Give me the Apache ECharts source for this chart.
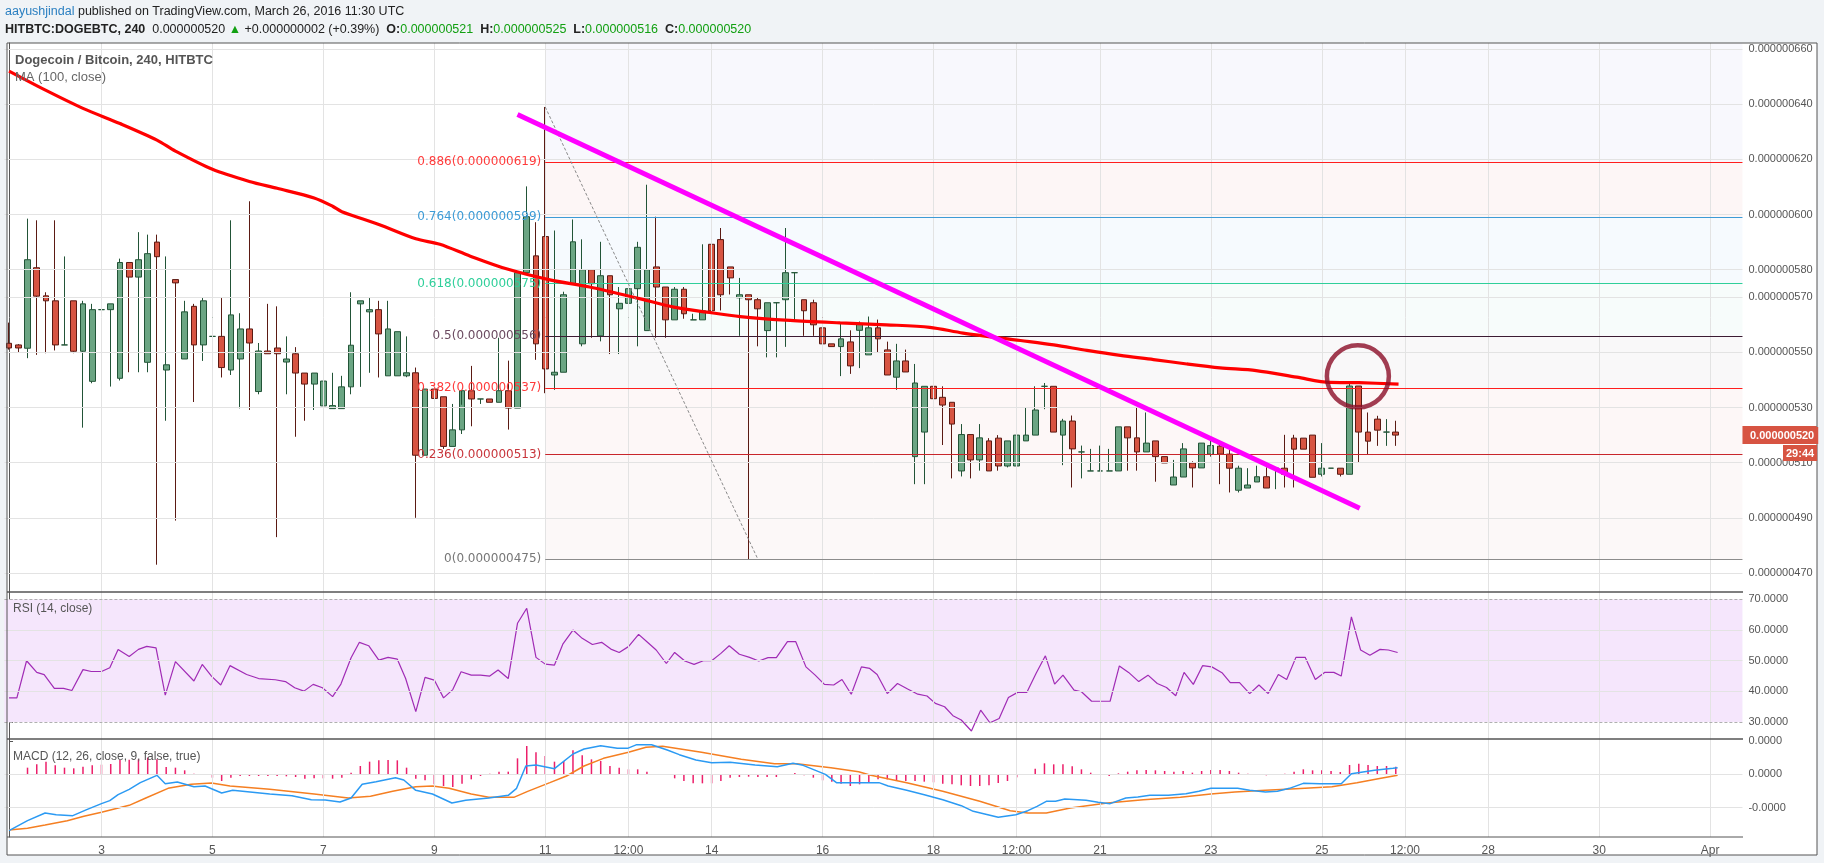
<!DOCTYPE html>
<html><head><meta charset="utf-8">
<script src="https://cdn.jsdelivr.net/npm/echarts@6/dist/echarts.min.js"></script>
<style>
html,body{margin:0;padding:0;background:#f0f3f6;}
#bgw{position:absolute;left:7px;top:43px;width:1810px;height:812px;background:#fff;}
#c{position:absolute;left:0;top:0;width:1824px;height:863px;}
</style></head><body>
<div id="bgw"></div><div id="c"></div>
<script>
// ---- data (price in units of 1e-9 BTC) ----
const opens=[553.3,552.7,551.5,580.7,570.5,568.7,552.7,568.7,550.4,539.5,565.5,565.5,540.6,582.6,577.3,546.4,590,543.6,576.4,547.6,566.7,552.7,555.8,555.8,543.6,547.6,558.5,535.8,550.5,551.6,546.5,549.5,542.5,538.5,530.6,529.6,529.6,537.5,567.6,564.7,565.5,541.5,541.5,541.5,542.6,512.7,536.7,533.9,515.9,521.9,536.1,533.1,533.1,531.9,536.1,529.8,578.9,585,592,541.8,542.8,574.9,553.1,580,556,577.8,565.8,567.8,573.1,557.9,581,573.7,561.8,572.9,561.8,561.8,589.2,590.9,581,569.8,570.9,569.1,557.9,568,569.1,578.9,569.1,568,558.9,553.1,552.1,553.8,558,549.1,558.9,550.9,541,546.9,512.2,521.1,537.7,533.7,531.9,507,520.2,511,517.9,518.9,508.8,508.8,517.9,520,537.7,537.7,520,525.1,513.9,507,507,507,507,523,519,513.9,517.9,512.2,501.9,504.8,509.9,508.1,513.1,516,513.1,500,500.8,503,504.9,508,508,518.9,518.9,520,505.8,508,508,505.8,537.8,521.1,525.8,521.1,521.1];
const closes=[551.6,551.6,583.6,570.4,568.7,552.7,552.7,550.4,567.6,565.5,565.5,567.6,582.6,577.3,583.6,585.8,584.7,545.5,575.2,564.7,552.7,568.7,555.8,544.5,563.6,558.5,553.4,550.5,549.5,549.5,547.6,542.5,538.5,542.5,539.6,530.7,537.5,552.6,568.7,565.5,556.7,558.5,557.5,542.6,512.7,536.7,533.3,515.9,521.9,536.1,533.1,533.1,531.9,536.1,529.8,578.9,599.2,553.1,544,542.8,570.9,590.1,580,574.9,577.8,570.9,567.8,573.1,588.1,580,573.7,561.8,572.9,564,561.8,565.1,565.1,570.9,577,570.9,569.1,565.8,568,568,578.9,578.9,565.1,560,553.1,552.1,554.9,545.1,560.1,558.9,554.9,541.8,546.9,542.9,538.9,537.7,533.2,530.9,524,520.2,511,519,507,508.8,517.9,520,520,529.1,537.7,521.1,525.1,515,513.9,507,507,507,523,519,513.9,517.1,512.2,509.9,504.8,515,508.1,517.1,516.2,513.1,508,508,501.9,504.9,500.8,508,505.8,514.9,514.9,504.7,508,508,505.8,537.8,521.1,517.8,521.8,521.1,520];
const lows=[551,550,547.9,549.1,549.7,550.7,552.7,549.7,522.7,538.8,565.5,537.6,539.8,542.8,542.8,542.8,473,525.2,489,547.6,532,546.9,555.8,540.9,541.8,529.7,529.1,534.8,549.5,483,534.8,519.4,525.2,529.1,530.6,529.6,529.6,534.8,537.5,542.6,540.9,541.5,541.5,541,490,512.7,524,515,515.9,520.4,523.2,531.3,531.9,531.9,522,529.8,578.9,547.3,535.2,536.4,542.8,574.9,552.2,555.3,554,549.4,549.4,551,552.2,557.9,555.3,555.3,561.8,562.2,561.8,561.8,565.1,565.2,571,556,475,552.2,548.2,548.2,552,561.6,556,556,553.1,552.1,541.4,542.2,544.3,549.1,550,541.8,536.4,542.9,502.2,502.2,503.2,516.4,504.3,505,504.3,507.1,507,507.1,508.3,508.8,517.9,520,529.4,521.1,509.1,501,504.3,507,507,507,507,507.1,507.1,513.9,503.1,509.9,501.9,504.8,501,508.1,512.2,502.2,499.2,499.2,500.8,503,500.8,500.4,501,501,514.9,504.7,505,508,505,505.8,510.1,513.1,516.1,516.1,516.1];
const highs=[560.8,553,598.5,597.9,571.8,597.9,584.8,568.7,568.7,567.6,565.5,567.6,584,582.6,593.6,592.7,592.7,584.8,576.4,568.7,567.6,569.7,569.7,569.7,597.9,564.2,604.8,553.4,567.6,566.7,555.8,551.9,542.5,542.5,542.6,542.6,541.5,571.8,568.7,569.7,568.7,568.7,557.5,555.8,544.5,536.7,536.7,533.9,531.3,531,545.1,533.1,533.1,555.3,547,578.9,610.2,597.2,639,594.2,572,598.2,591,580,590.1,577.8,573.7,580,590.1,610.8,599.2,573.7,573.7,573.7,564,589.2,599.2,595.1,581,577,570.9,570.1,568,568,595.1,578.9,569.1,569.1,562.8,553.1,560.4,558,561.2,563,561.9,553.9,553.1,551,545.8,537.7,538.9,537.7,531.9,524,520.2,524,518.9,520,517.9,530.1,530.1,537.7,538.9,537.7,525.9,527.1,516.2,515,516.2,515,523,523,530.1,528.2,517.9,512.2,511,517.1,510.5,517.1,519,517.9,514.9,508.9,508,508.9,508.3,508,520.1,520.1,518.9,520,517.1,508,508,539.1,537.8,528.2,527,525.8,525.2];
const maX=[0,4,8,12,16,18,22,26,29,33,35,36,40,44,46.6,49.9,53.8,58.5,62.8,68.3,71.9,75.5,79.1,84.5,89.9,94.9,99.6,103.2,109.4,113,116.6,120.2,123.8,127.4,131,134.9,139.3,142.9,146,150.3];
const maY=[652,645,638.5,633,627,623,616.4,612,609.5,606,603,601,596.4,591.2,589.2,584.9,580.3,576.3,573.7,569.4,566.4,564.6,563,561.6,560.7,560,559.1,557,554.3,552.7,550.7,548.9,547.4,545.8,544.4,543.4,541,539.1,539,538.5];
const rsiX=[0,0.85,1.9,3,3.8,4.9,5.9,6.8,8,8.9,10,10.9,11.8,13,14,14.9,15.9,16.9,18,20,20.9,21.9,22.9,23.9,25.7,27,28.8,29.9,30.9,31.9,32.9,33.9,35,35.9,37,37.9,38.9,40,41,42,42.9,44,45,46,47,48,48.9,50,51,52,52.9,54,55,56,57,58,59,59.9,61,62,63.1,64.1,65.1,66,67,68.1,69,70,71.1,72,73.1,74.1,75.1,76,77,77.9,79,80.1,81.1,82.1,83,84.2,85.1,86.2,87.2,88.2,89.2,90.1,91.1,92.2,93.1,93.9,95,96.1,97.2,98.3,99.3,100.2,101.2,102.1,103,104.1,105.1,106.1,107.1,108.1,109.1,110.1,111.1,112.1,113.1,114,115.2,116,117.1,119.1,120.1,121.1,122.2,123.2,124.2,125.2,126.2,127.1,128.1,129.1,130.1,131.2,132.1,133.1,134.2,135.2,136.2,137.3,138.2,139.2,140.2,141.3,142.3,143.3,144.1,145.2,146.2,147.2,148.3,149.2,150.2];
const rsiY=[37.9,37.9,50,46.2,45.5,41,41,40.3,47.1,46.5,46.5,47.7,53.7,51.4,53.7,54.7,54.2,38.8,49.7,43.4,48.8,45,42.1,48.4,45.5,44.2,43.8,43.2,41.2,40.1,42.3,41.2,38.3,42.4,51,56,54.9,50.2,51.1,50.5,44.2,33.4,44.6,43.7,37.9,40.6,46.4,45.3,45.3,45,47,44.2,62.2,67.1,51.1,48.9,48.6,55.4,60,57.3,55.3,56,53.8,52.7,54.6,58.6,56.2,53.5,49.1,52.7,49.9,48.8,50,50,52.4,54.9,52.1,51.1,49.9,51,51,56.2,56.2,48,45.3,42.3,42.1,43.9,39.1,48,47.5,45.5,39.3,42.6,40.8,39.1,38.5,36.1,35,32.1,30.7,27.1,33.9,29.8,31.2,38,39.7,39.7,45.9,51.6,42.4,45.3,40.4,39.9,36.8,36.8,48.3,46.2,43.2,45.3,42.6,41.3,38.6,46.2,42.3,48.4,48,46.1,42.9,42.9,39.3,42.1,39.3,45.5,43.9,51.1,51.1,43.9,46.2,46.2,45,64.3,53.5,51.8,53.7,53.5,52.7];
const macdX=[0,2,3.9,5.1,6.9,8.4,10,10.9,11.8,13,14.2,16,16.9,18.2,20,21.2,23,24.2,28.2,30.6,32.7,34.2,35.8,37,38.2,39.7,41.8,42.7,44,45.8,47.9,49.4,51.9,54,54.9,55.9,57,59,61,62.2,64,65.8,66.9,67.9,69.5,71.2,72.5,74.3,76,78,80.7,83.1,84.8,85.9,88.3,89.5,91.3,93.1,94.1,95.1,97.1,99,101,103,104.3,107,108.9,110.2,111.2,112.2,113.2,114.2,116.5,117.8,119.1,120.8,122.1,123.4,125.4,127.3,128.7,130,132.9,134.2,135.9,137.2,138.5,140,141.8,144.1,145.2,147.7,149.7,150.2];
const macdY=[-1.69,-1.39,-1.16,-1.21,-1.24,-1.06,-0.88,-0.79,-0.61,-0.45,-0.25,-0.03,-0.28,-0.23,-0.37,-0.35,-0.56,-0.48,-0.59,-0.64,-0.76,-0.77,-0.83,-0.71,-0.3,-0.22,-0.1,-0.17,-0.48,-0.59,-0.86,-0.78,-0.71,-0.63,-0.42,0.25,0.28,0.17,0.61,0.76,0.86,0.78,0.78,0.89,0.89,0.73,0.59,0.43,0.35,0.36,0.28,0.23,0.33,0.27,0,-0.25,-0.25,-0.25,-0.25,-0.35,-0.48,-0.61,-0.76,-0.94,-1.11,-1.29,-1.21,-1.09,-0.96,-0.81,-0.81,-0.74,-0.78,-0.84,-0.88,-0.71,-0.68,-0.63,-0.63,-0.58,-0.51,-0.42,-0.42,-0.48,-0.53,-0.51,-0.42,-0.27,-0.28,-0.28,0.02,0.12,0.18,0.2];
const sigX=[0,2,3.9,6.3,8.1,10,13,14.8,17.2,19.7,21.9,23.9,28.2,33,36.7,39.1,41.5,44,45.8,47.6,50,51.9,54.6,56.1,58.5,60.3,62.2,64.3,67,68.9,70.7,74.9,79.2,82.8,85.2,88.9,91.9,93.1,97.1,101,105,108.3,110.2,112.2,114.8,118.8,122.7,126.7,130,132.6,135.9,139.2,143.1,145.8,148.4,150.2];
const sigY=[-1.67,-1.62,-1.52,-1.39,-1.26,-1.14,-0.93,-0.71,-0.42,-0.3,-0.26,-0.35,-0.45,-0.59,-0.71,-0.66,-0.51,-0.37,-0.35,-0.42,-0.59,-0.69,-0.69,-0.51,-0.25,-0.05,0.25,0.48,0.66,0.81,0.84,0.66,0.45,0.32,0.32,0.2,0.08,-0.02,-0.25,-0.51,-0.81,-1.09,-1.16,-1.16,-1.01,-0.86,-0.76,-0.69,-0.59,-0.53,-0.48,-0.43,-0.37,-0.25,-0.12,-0.03];
const hist=[-0.01,0.01,0.2,0.3,0.38,0.27,0.2,0.18,0.23,0.27,0.29,0.31,0.43,0.44,0.45,0.5,0.45,0.22,0.2,0.12,0.02,-0.02,-0.1,-0.2,-0.1,-0.05,-0.05,-0.05,-0.05,-0.05,-0.06,-0.08,-0.13,-0.12,-0.12,-0.13,-0.1,0.05,0.25,0.38,0.42,0.43,0.42,0.2,-0.13,-0.18,-0.3,-0.35,-0.38,-0.28,-0.15,-0.05,0.02,0.08,0.08,0.48,0.85,0.66,0.55,0.38,0.4,0.72,0.57,0.45,0.4,0.25,0.2,0.15,0.15,0.08,0.01,-0.02,-0.12,-0.2,-0.27,-0.27,-0.27,-0.2,-0.1,-0.08,-0.07,-0.08,-0.08,-0.08,0.01,0.04,-0.03,-0.1,-0.18,-0.22,-0.28,-0.35,-0.3,-0.25,-0.15,-0.15,-0.18,-0.2,-0.2,-0.22,-0.24,-0.28,-0.3,-0.33,-0.35,-0.35,-0.33,-0.26,-0.2,-0.09,0.01,0.17,0.33,0.3,0.3,0.24,0.15,0.05,0.01,-0.05,0.03,0.08,0.12,0.13,0.12,0.1,0.08,0.1,0.05,0.1,0.13,0.13,0.1,0.05,0.02,0.01,-0.03,0.01,0.02,0.08,0.15,0.12,0.12,0.1,0.07,0.28,0.32,0.28,0.25,0.25,0.23];
const dateTicks=[10,22,34,46,58,67,76,88,100,109,118,130,142,151,160,172,184];
const dateLabels=['3','5','7','9','11','12:00','14','16','18','12:00','21','23','25','12:00','28','30','Apr'];
const priceTicks=[660,640,620,600,580,570,550,530,510,490,470];
const rsiTicks=[70,60,50,40,30];
const macdTicks=[1,0,-1];
const macdTickLabels=['0.0000','0.0000','-0.0000'];
const fibRatios=['0.886','0.764','0.618','0.5','0.382','0.236','0'];
const fibPrices=[619,599,575,556,537,513,475];
const fibColors=['#ff1e1e','#3d9bd6','#2fcf9a','#3b1c33','#ff1e1e','#c8252b','#8c8c8c'];
const fibLabelColors=['#ff3b3b','#3d9bd6','#2fcf9a','#6b4a60','#ff3b3b','#c8353b','#777'];
const fibZoneTop=[662.2,619,599,575,556,537,513];
const fibZoneColors=['#f8f8fd','#fdf6f6','#f6fafe','#f7fcfb','#f9f8f9','#fdf7f7','#fcf8f8'];
const fibStart=[58,639], fibEnd=[81,475];
const trendStart=[55,636.3], trendEnd=[146.1,493.5];
const circleAt=[145.9,541.3];
const lastPrice=520;
const nCats=188;
const cats=Array.from({length:nCats},(_,i)=>String(i));
const candles=opens.map((o,i)=>[o,closes[i],lows[i],highs[i]]);

const chart=echarts.init(document.getElementById('c'),null,{renderer:'canvas'});
const L=4.4, W=nCats*9.245;
const grids=[{left:L,width:W,top:43,height:549},{left:L,width:W,top:592,height:147},{left:L,width:W,top:739,height:98}];
const FONT='Liberation Sans';
function pad(v){return '0.000000'+String(v);}
const vxa=(g)=>({type:'value',gridIndex:g,min:-0.5,max:nCats-0.5,show:false});
const cxa=(g,lab)=>({type:'category',gridIndex:g,data:cats,boundaryGap:true,axisLine:{show:false},axisTick:{show:false},splitLine:{show:false},
  axisLabel:{show:lab,interval:(i)=>dateTicks.indexOf(i)>=0,formatter:(v,i)=>dateLabels[dateTicks.indexOf(+v)]||'',color:'#555',fontFamily:FONT,fontSize:12,margin:8}});
const gridLineSeries=(xa,ya,yvals,extra)=>({type:'line',xAxisIndex:xa,yAxisIndex:ya,data:[],silent:true,z:1,
  markLine:{silent:true,symbol:'none',animation:false,label:{show:false},lineStyle:{color:'#e3e3e3',width:1,type:'solid'},
    data:dateTicks.map(t=>({xAxis:t})).concat(yvals.map(v=>({yAxis:v}))).concat(extra||[])}});

const option={
  animation:false,
  grid:grids,
  xAxis:[cxa(0,false),vxa(0),cxa(1,false),vxa(1),cxa(2,true),vxa(2)],
  yAxis:[
    {type:'value',gridIndex:0,position:'right',min:463.1,max:662.2,splitLine:{show:false},
     axisLine:{show:true,lineStyle:{color:'#555'}},axisTick:{show:true,length:4,customValues:priceTicks,lineStyle:{color:'#555'}},
     axisLabel:{customValues:priceTicks,formatter:v=>pad(v),color:'#555',fontFamily:FONT,fontSize:11,margin:6}},
    {type:'value',gridIndex:1,position:'right',min:24.5,max:72.4,splitLine:{show:false},
     axisLine:{show:true,lineStyle:{color:'#555'}},axisTick:{show:true,length:4,customValues:rsiTicks,lineStyle:{color:'#555'}},
     axisLabel:{customValues:rsiTicks,formatter:v=>v.toFixed(4),color:'#555',fontFamily:FONT,fontSize:11,margin:6}},
    {type:'value',gridIndex:2,position:'right',min:-1.88,max:1.06,splitLine:{show:false},
     axisLine:{show:true,lineStyle:{color:'#555'}},axisTick:{show:true,length:4,customValues:macdTicks,lineStyle:{color:'#555'}},
     axisLabel:{customValues:macdTicks,formatter:v=>macdTickLabels[macdTicks.indexOf(Math.round(v))],color:'#555',fontFamily:FONT,fontSize:11,margin:6}}
  ],
  series:[
    {type:'line',xAxisIndex:1,yAxisIndex:0,data:[],silent:true,z:0,
     markArea:{silent:true,data:fibZoneTop.map((t,i)=>[{coord:[fibStart[0],t],itemStyle:{color:fibZoneColors[i]}},{coord:[nCats-0.5,fibPrices[i]]}])}},
    gridLineSeries(1,0,priceTicks),
    {type:'line',xAxisIndex:1,yAxisIndex:0,data:[],silent:true,z:3,
     markLine:{silent:true,symbol:'none',data:fibPrices.map((p,i)=>[
       {coord:[fibStart[0],p],lineStyle:{color:fibColors[i],width:1.2,type:'solid'},
        label:{show:true,position:'start',formatter:fibRatios[i]+'('+pad(p)+')',color:fibLabelColors[i],fontFamily:'DejaVu Sans',fontSize:12,distance:4}},
       {coord:[nCats-0.5,p]}])}},
    {type:'candlestick',xAxisIndex:0,yAxisIndex:0,data:candles,barWidth:6.3,z:4,
     itemStyle:{color:'#6ba583',color0:'#d75442',borderColor:'#225437',borderColor0:'#5b1a13',borderColorDoji:'#225437',borderWidth:1}},
    {type:'line',xAxisIndex:1,yAxisIndex:0,data:maX.map((x,i)=>[x,maY[i]]),smooth:0.3,symbol:'none',z:5,lineStyle:{color:'#ff0000',width:3.2}},
    {type:'line',xAxisIndex:1,yAxisIndex:0,data:[fibStart,fibEnd],symbol:'none',z:5,lineStyle:{color:'#8a8a8a',width:1,type:[3,2]}},
    {type:'line',xAxisIndex:1,yAxisIndex:0,data:[trendStart,trendEnd],symbol:'none',z:6,lineStyle:{color:'#ff00ff',width:5}},
    {type:'scatter',xAxisIndex:1,yAxisIndex:0,data:[circleAt],symbol:'circle',symbolSize:62,z:7,
     itemStyle:{color:'rgba(0,0,0,0)',borderColor:'#8b0d27',borderWidth:4.5}},
    {type:'line',xAxisIndex:1,yAxisIndex:0,data:[],z:8,
     markLine:{silent:true,symbol:'none',data:[{yAxis:lastPrice}],lineStyle:{color:'rgba(0,0,0,0)',width:1},
      label:{show:true,position:'end',distance:0,formatter:pad(lastPrice),backgroundColor:'#d75442',color:'#fff',fontWeight:'bold',fontFamily:FONT,fontSize:11,padding:[4,4,3,6]}}},
    {type:'line',xAxisIndex:3,yAxisIndex:1,data:[],silent:true,z:0,
     markArea:{silent:true,data:[[{coord:[-0.5,70],itemStyle:{color:'#f5e6fc'}},{coord:[nCats-0.5,30]}]]}},
    gridLineSeries(3,1,[60,50,40]),
    {type:'line',xAxisIndex:3,yAxisIndex:1,data:[],silent:true,z:2,
     markLine:{silent:true,symbol:'none',label:{show:false},lineStyle:{color:'#b0b0b0',type:[3,2],width:1},data:[{yAxis:70},{yAxis:30}]}},
    {type:'line',xAxisIndex:3,yAxisIndex:1,data:rsiX.map((x,i)=>[x,rsiY[i]]),symbol:'none',z:4,lineStyle:{color:'#a02bb5',width:1.2}},
    gridLineSeries(5,2,[0,-1]),
    {type:'bar',xAxisIndex:5,yAxisIndex:2,data:hist.map((v,i)=>[i,v]),barWidth:1.5,z:3,itemStyle:{color:'#ec1f6a'}},
    {type:'line',xAxisIndex:5,yAxisIndex:2,data:sigX.map((x,i)=>[x,sigY[i]]),symbol:'none',z:4,lineStyle:{color:'#f57f22',width:1.5}},
    {type:'line',xAxisIndex:5,yAxisIndex:2,data:macdX.map((x,i)=>[x,macdY[i]]),symbol:'none',z:5,lineStyle:{color:'#2b9af3',width:1.5}}
  ],
  graphic:[
    {type:'text',left:5,top:5,z:100,style:{text:'{u|aayushjindal} published on TradingView.com, March 26, 2016 11:30 UTC',fontFamily:FONT,fontSize:12.5,fill:'#222',
      rich:{u:{fill:'#2a7fc1',fontFamily:FONT,fontSize:12.5}}}},
    {type:'text',left:5,top:23,z:100,style:{text:'{b|HITBTC:DOGEBTC, 240}  0.000000520 {g|▲} +0.000000002 (+0.39%)  {b|O:}{g|0.000000521}  {b|H:}{g|0.000000525}  {b|L:}{g|0.000000516}  {b|C:}{g|0.000000520}',
      fontFamily:FONT,fontSize:12.5,fill:'#222',rich:{b:{fontWeight:'bold',fill:'#222',fontFamily:FONT,fontSize:12.5},g:{fill:'#12a012',fontFamily:FONT,fontSize:12.5}}}},
    {type:'text',left:15,top:54,z:100,style:{text:'Dogecoin / Bitcoin, 240, HITBTC',fontFamily:FONT,fontWeight:'bold',fontSize:13,fill:'#555'}},
    {type:'text',left:15,top:71,z:100,style:{text:'MA (100, close)',fontFamily:FONT,fontSize:13,fill:'#666'}},
    {type:'text',left:13,top:603,z:100,style:{text:'RSI (14, close)',fontFamily:FONT,fontSize:12,fill:'#555'}},
    {type:'text',left:13,top:751,z:100,style:{text:'MACD (12, 26, close, 9, false, true)',fontFamily:FONT,fontSize:12,fill:'#555'}},
    {type:'line',z:100,shape:{x1:7,y1:43,x2:1817,y2:43},style:{stroke:'#555',lineWidth:1}},
    {type:'line',z:100,shape:{x1:7,y1:592,x2:1743,y2:592},style:{stroke:'#555',lineWidth:1.5}},
    {type:'line',z:100,shape:{x1:7,y1:739,x2:1743,y2:739},style:{stroke:'#555',lineWidth:1.5}},
    {type:'line',z:100,shape:{x1:7,y1:837,x2:1743,y2:837},style:{stroke:'#555',lineWidth:1}},
    {type:'line',z:100,shape:{x1:7,y1:43,x2:7,y2:855},style:{stroke:'#555',lineWidth:1}},
    {type:'line',z:100,shape:{x1:1817,y1:43,x2:1817,y2:855},style:{stroke:'#555',lineWidth:1}},
    {type:'line',z:100,shape:{x1:7,y1:855,x2:1817,y2:855},style:{stroke:'#555',lineWidth:1}}
  ]
};
chart.setOption(option);
const py=chart.convertToPixel({yAxisIndex:0},lastPrice);
chart.setOption({graphic:option.graphic.concat([
  {type:'text',left:1745,top:py-8,z:100,style:{text:pad(lastPrice),fontFamily:FONT,fontWeight:'bold',fontSize:11,fill:'#fff',backgroundColor:'#d75442',padding:[3,4,3,5]}},
  {type:'text',left:1783,top:py+10,z:100,style:{text:'29:44',fontFamily:FONT,fontWeight:'bold',fontSize:11,fill:'#fff',backgroundColor:'#d75442',padding:[3,3,2,3]}}
])});
</script></body></html>
